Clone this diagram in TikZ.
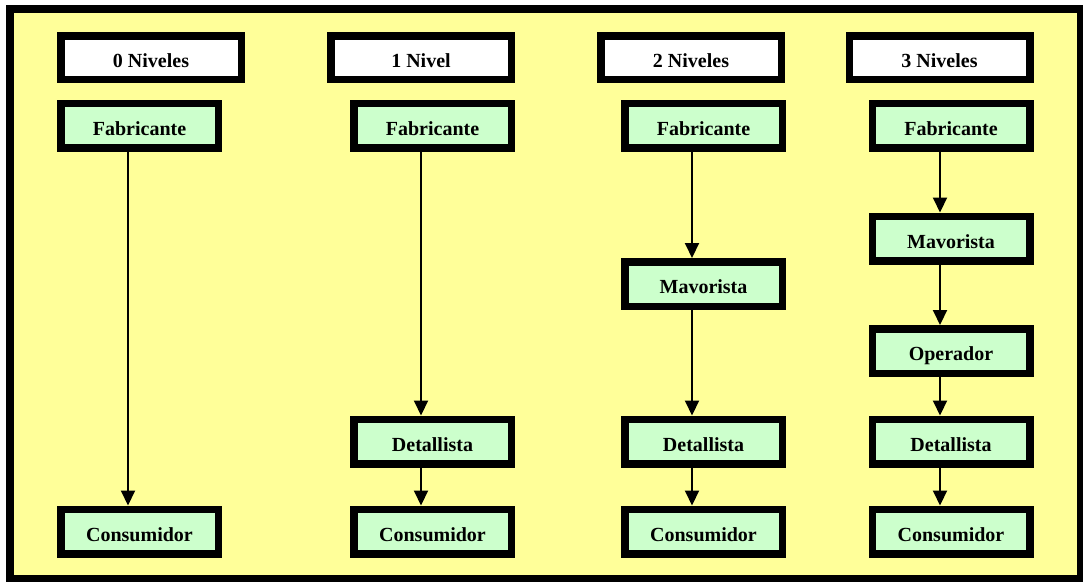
\documentclass[tikz,border=0pt]{standalone}
\usepackage{fontspec}
\setmainfont{Liberation Serif}
\usetikzlibrary{arrows.meta}
\definecolor{bgyellow}{RGB}{255,255,153}
\definecolor{boxgreen}{RGB}{204,255,204}
\begin{document}
\begin{tikzpicture}[x=1pt,y=-1pt,
  txt/.style={inner sep=0pt,text height=19pt,text depth=0pt,font=\fontsize{20pt}{22pt}\selectfont\bfseries},
  hdr/.style={txt,draw=black,line width=7.5pt,fill=white,minimum width=180.5pt,minimum height=43.5pt},
  gbox/.style={txt,draw=black,line width=7.5pt,fill=boxgreen,minimum width=157.5pt,minimum height=44.5pt},
  arr/.style={line width=2pt,-{Triangle[width=14pt,length=15pt]}}]
\useasboundingbox (0,0) rectangle (1083,581);
\fill[white] (0,0) rectangle (1083,581);
\draw[line width=8pt,fill=bgyellow] (10,9) rectangle (1081,579);
% headers
\node[hdr] (h1) at (151,57.5) {0 Niveles};
\node[hdr] (h2) at (421,57.5) {1 Nivel};
\node[hdr] (h3) at (691,57.5) {2 Niveles};
\node[hdr] (h4) at (939.5,57.5) {3 Niveles};
% column 1
\node[gbox] (f1) at (139.5,125.5) {Fabricante};
\node[gbox] (c1) at (139.5,531.5) {Consumidor};
% column 2
\node[gbox] (f2) at (432.5,125.5) {Fabricante};
\node[gbox] (d2) at (432.5,441.5) {Detallista};
\node[gbox] (c2) at (432.5,531.5) {Consumidor};
% column 3
\node[gbox] (f3) at (703.5,125.5) {Fabricante};
\node[gbox] (m3) at (703.5,284) {Mavorista};
\node[gbox] (d3) at (703.5,441.5) {Detallista};
\node[gbox] (c3) at (703.5,531.5) {Consumidor};
% column 4
\node[gbox] (f4) at (951,125.5) {Fabricante};
\node[gbox] (m4) at (951,238.5) {Mavorista};
\node[gbox] (o4) at (951,351) {Operador};
\node[gbox] (d4) at (951,441.5) {Detallista};
\node[gbox] (c4) at (951,531.5) {Consumidor};
% arrow columns
\coordinate (x1) at (128,0);
\coordinate (x2) at (421,0);
\coordinate (x3) at (692,0);
\coordinate (x4) at (940,0);
\draw[arr] (f1.south -| x1) -- (c1.north -| x1);
\draw[arr] (f2.south -| x2) -- (d2.north -| x2);
\draw[arr] (d2.south -| x2) -- (c2.north -| x2);
\draw[arr] (f3.south -| x3) -- (m3.north -| x3);
\draw[arr] (m3.south -| x3) -- (d3.north -| x3);
\draw[arr] (d3.south -| x3) -- (c3.north -| x3);
\draw[arr] (f4.south -| x4) -- (m4.north -| x4);
\draw[arr] (m4.south -| x4) -- (o4.north -| x4);
\draw[arr] (o4.south -| x4) -- (d4.north -| x4);
\draw[arr] (d4.south -| x4) -- (c4.north -| x4);
\end{tikzpicture}
\end{document}
